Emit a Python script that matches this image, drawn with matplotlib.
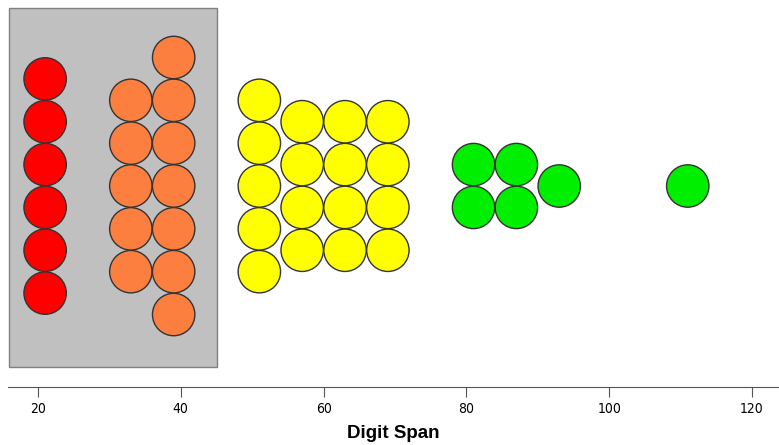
import numpy as np
import matplotlib.pyplot as plt
from matplotlib.patches import Circle, Rectangle

# binned digit span values (bin width 6) and how many dots stack in each bin
bin_centers = [21, 33, 39, 51, 57, 63, 69, 81, 87, 93, 111]
bin_counts = [6, 5, 7, 5, 4, 4, 4, 2, 2, 1, 1]
bin_colors = ['#FF0000', '#FC7F3F', '#FC7F3F', '#FFFF00', '#FFFF00', '#FFFF00',
              '#FFFF00', '#00EE00', '#00EE00', '#00EE00', '#00EE00']
xticks = [20, 40, 60, 80, 100, 120]
highlight = (16, 45)  # shaded range

plt.rcParams['font.family'] = ['Liberation Sans', 'DejaVu Sans']

fig = plt.figure(figsize=(7.79, 4.45), dpi=100)
ax = fig.add_axes([8 / 779, 58 / 445, 771 / 779, 387 / 445])

px = 7.14  # pixels per data unit
x0 = 20 - 30 / px
ax.set_xlim(x0, x0 + 771 / px)
ax.set_ylim(0, 387 / px)

ymid = 201 / px
r = 3.0

ax.add_patch(Rectangle((highlight[0], 20 / px), highlight[1] - highlight[0], 359 / px,
                       facecolor='#C0C0C0', edgecolor='#808080', linewidth=1, zorder=1))

for xc, n, col in zip(bin_centers, bin_counts, bin_colors):
    for k in range(n):
        yc = ymid + (k - (n - 1) / 2) * 2 * r
        ax.add_patch(Circle((xc, yc), r * 0.99, facecolor=col, edgecolor='#333333',
                            linewidth=1, zorder=2))

for s in ['top', 'left', 'right']:
    ax.spines[s].set_visible(False)
ax.spines['bottom'].set_color('#555555')
ax.set_yticks([])
ax.set_xticks(xticks)
ax.set_xticklabels([str(t) for t in xticks], family='DejaVu Sans', stretch='condensed')
ax.tick_params(axis='x', length=7, color='#555555', labelsize=10, pad=4)
ax.set_xlabel('Digit Span', fontsize=13.5, fontweight='bold', labelpad=6)

fig.savefig('out.png', dpi=100)
